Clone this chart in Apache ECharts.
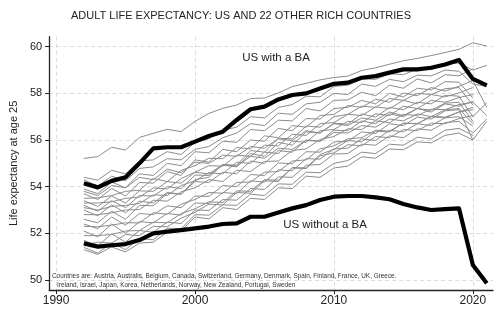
<!DOCTYPE html>
<html>
<head>
<meta charset="utf-8">
<script src="https://cdn.jsdelivr.net/npm/echarts@6/dist/echarts.min.js"></script>
<style>
html,body{margin:0;padding:0;background:#fff;}
#chart{width:504px;height:322px;}
</style>
</head>
<body>
<div id="chart"></div>
<script>
const years = [1992,1993,1994,1995,1996,1997,1998,1999,2000,2001,2002,2003,2004,2005,2006,2007,2008,2009,2010,2011,2012,2013,2014,2015,2016,2017,2018,2019,2020,2021];
const xTicks = [1990, 2000, 2010, 2020];
const yTicks = [50, 52, 54, 56, 58, 60];

const usWithBA = [54.15,53.97,54.25,54.40,55.00,55.64,55.69,55.69,55.93,56.17,56.36,56.86,57.32,57.43,57.74,57.93,58.00,58.21,58.41,58.46,58.67,58.74,58.89,59.03,59.03,59.10,59.24,59.43,58.62,58.34];
const usWithoutBA = [51.57,51.43,51.49,51.54,51.71,52.00,52.07,52.14,52.21,52.29,52.40,52.43,52.71,52.71,52.89,53.07,53.21,53.43,53.57,53.60,53.60,53.54,53.46,53.26,53.11,53.00,53.04,53.07,50.64,49.86];

const c01 = [55.21,55.29,55.69,55.57,56.11,56.29,56.46,56.36,56.80,57.14,57.36,57.50,57.78,57.80,58.02,58.29,58.43,58.58,58.68,58.74,58.98,59.10,59.25,59.40,59.50,59.62,59.75,59.89,60.17,60.03];
const c02 = [54.40,54.28,54.70,54.55,55.10,55.15,55.50,55.38,55.90,56.05,56.42,56.55,57.00,56.95,57.40,57.52,57.88,57.85,58.30,58.35,58.62,58.60,58.85,58.80,59.05,59.02,59.25,59.30,59.00,59.20];
const c03 = [54.30,54.02,54.45,54.25,54.78,54.85,55.20,55.15,55.60,55.72,56.10,56.30,56.70,56.62,57.15,57.10,57.55,57.62,58.00,57.95,58.40,58.30,58.60,58.50,58.78,58.75,59.00,58.95,58.40,58.30];
const c04 = [53.90,53.70,54.20,53.95,54.55,54.48,55.00,54.90,55.50,55.45,55.95,55.90,56.45,56.40,56.85,56.82,57.35,57.25,57.70,57.72,58.05,57.90,58.35,58.22,58.62,58.45,58.80,58.75,59.05,null];
const c05 = [53.80,53.62,54.05,53.95,54.40,54.30,54.75,54.60,55.05,55.00,55.35,55.30,55.72,55.65,56.05,55.98,56.40,56.30,56.70,56.62,56.95,56.85,57.20,57.05,57.35,57.20,57.55,57.45,57.65,null];
const c06 = [53.70,53.45,53.92,53.60,54.18,54.15,54.65,54.48,55.15,55.05,55.60,55.50,56.00,55.95,56.50,56.40,56.92,56.90,57.35,57.40,57.70,57.55,58.00,57.85,58.22,58.15,58.50,58.48,57.80,null];
const c07 = [53.50,53.52,53.62,53.80,53.85,54.35,54.22,54.70,54.90,55.22,55.20,55.68,55.62,56.18,56.10,56.62,56.55,57.05,57.10,57.48,57.40,57.75,57.62,58.02,57.90,58.25,58.10,58.30,58.55,57.40];
const c08 = [53.40,53.15,53.60,53.30,53.82,53.80,54.22,54.15,54.62,54.55,54.95,54.88,55.30,55.22,55.65,55.60,55.98,55.95,56.32,56.30,56.62,56.55,56.90,56.82,57.12,57.00,57.30,57.35,56.70,null];
const c09 = [53.30,53.30,53.35,53.50,53.55,53.95,53.90,54.35,54.62,54.90,54.88,55.35,55.30,55.78,55.75,56.25,56.20,56.70,56.75,57.10,57.05,57.42,57.35,57.70,57.55,57.95,57.85,58.02,58.25,null];
const c10 = [53.20,52.95,53.40,53.10,53.62,53.60,54.00,53.92,54.50,54.48,54.92,54.85,55.42,55.30,55.90,55.78,56.35,56.30,56.72,56.68,57.12,56.98,57.40,57.30,57.62,57.55,57.92,57.88,57.00,57.60];
const c11 = [53.10,53.00,53.15,53.20,53.28,53.65,53.62,54.05,54.25,54.60,54.55,55.05,55.00,55.48,55.42,55.95,55.90,56.40,56.45,56.80,56.75,57.12,57.05,57.45,57.35,57.70,57.62,57.82,57.95,null];
const c12 = [53.00,52.75,53.22,52.88,53.38,53.30,53.75,53.68,54.22,54.18,54.62,54.55,55.10,55.00,55.55,55.48,56.00,55.95,56.42,56.40,56.82,56.70,57.12,57.00,57.35,57.28,57.58,57.62,56.80,null];
const c13 = [52.80,52.80,52.88,53.00,53.02,53.42,53.38,53.78,53.95,54.30,54.22,54.70,54.65,55.08,55.10,55.55,55.62,56.02,56.15,56.48,56.45,56.82,56.75,57.10,57.05,57.32,57.30,57.52,57.62,57.05];
const c14 = [52.60,52.45,52.95,52.60,53.20,53.18,53.72,53.68,54.30,54.40,54.95,54.92,55.55,55.48,56.08,56.05,56.60,56.55,57.00,57.10,57.45,57.40,57.78,57.70,58.00,57.95,58.20,58.25,57.50,null];
const c15 = [52.40,52.20,52.70,52.35,52.85,52.80,53.18,53.10,53.60,53.58,54.05,54.00,54.52,54.48,55.02,54.98,55.50,55.48,55.92,55.95,56.35,56.28,56.70,56.62,56.98,56.90,57.25,57.30,56.00,56.80];
const c16 = [52.30,52.28,52.35,52.45,52.45,52.88,52.82,53.25,53.45,53.75,53.72,54.18,54.20,54.62,54.65,55.10,55.15,55.62,55.75,56.05,56.10,56.42,56.38,56.72,56.70,57.00,56.95,57.20,57.30,null];
const c17 = [52.10,51.85,52.40,52.00,52.50,52.45,52.85,52.78,53.30,53.28,53.75,53.70,54.25,54.20,54.72,54.68,55.20,55.18,55.62,55.65,56.05,55.98,56.42,56.35,56.70,56.62,56.95,57.00,56.60,null];
const c18 = [51.90,51.90,51.95,52.10,52.12,52.48,52.45,52.85,53.05,53.35,53.32,53.82,53.80,54.30,54.28,54.80,54.78,55.32,55.45,55.80,55.75,56.15,56.10,56.45,56.40,56.72,56.70,56.92,57.05,null];
const c19 = [51.70,51.45,51.98,51.62,52.12,52.05,52.48,52.42,53.00,52.98,53.45,53.42,53.92,53.88,54.42,54.40,54.92,54.95,55.40,55.42,55.82,55.78,56.18,56.10,56.48,56.42,56.75,56.80,56.30,56.90];
const c20 = [51.50,51.62,51.58,51.95,51.90,52.30,52.28,52.65,52.90,53.25,53.22,53.75,53.72,54.25,54.22,54.82,54.80,55.38,55.60,55.98,55.92,56.38,56.35,56.72,56.70,57.02,56.98,57.20,57.40,null];
const c21 = [51.40,51.15,51.60,51.30,51.78,51.72,52.22,52.20,52.80,52.78,53.22,53.20,53.68,53.62,54.12,54.10,54.62,54.60,55.00,55.12,55.48,55.42,55.82,55.78,56.12,56.05,56.42,56.50,56.20,null];
const c22 = [51.30,51.10,51.42,51.20,51.58,51.62,52.05,52.10,52.70,52.62,53.10,53.02,53.50,53.45,53.95,53.92,54.45,54.40,54.80,54.88,55.28,55.22,55.62,55.58,55.92,55.88,56.20,56.30,56.00,null];

const otherCountries = [c01,c02,c03,c04,c05,c06,c07,c08,c09,c10,c11,c12,c13,c14,c15,c16,c17,c18,c19,c20,c21,c22];

const titleText = 'ADULT LIFE EXPECTANCY: US AND 22 OTHER RICH COUNTRIES';
const yName = 'Life expectancy at age 25';
const labelWith = 'US with a BA';
const labelWithout = 'US without a BA';
const noteLine1 = 'Countries are: Austria, Australis, Belgium, Canada, Switzerland, Germany, Denmark, Spain, Finland, France, UK, Greece.';
const noteLine2 = 'Ireland, Israel, Japan, Korea, Netherlands, Norway, New Zealand, Portugal, Sweden';

const pair = arr => years.map((y, i) => [y, arr[i]]);

const FONT = 'Liberation Sans, Arial, sans-serif';

const series = [];
otherCountries.forEach((arr) => {
  series.push({
    type: 'line', data: pair(arr), showSymbol: false, symbol: 'none',
    lineStyle: { color: '#8c8c8c', width: 1 }, z: 2, silent: true, connectNulls: false
  });
});
series.push({ type: 'line', data: pair(usWithBA), showSymbol: false, symbol: 'none', lineStyle: { color: '#000', width: 4.2, join: 'round' }, z: 5, silent: true });
series.push({ type: 'line', data: pair(usWithoutBA), showSymbol: false, symbol: 'none', lineStyle: { color: '#000', width: 4.2, join: 'round' }, z: 5, silent: true });

const chart = echarts.init(document.getElementById('chart'), null, { renderer: 'canvas' });
chart.setOption({
  animation: false,
  backgroundColor: '#fff',
  grid: { left: 42, right: 11, top: 36.7, bottom: 32, containLabel: false },
  xAxis: {
    type: 'value', min: 1989.5, max: 2021.45,
    axisLine: { show: true, lineStyle: { color: '#222', width: 1.3 } },
    axisTick: { show: true, length: 4, customValues: xTicks, lineStyle: { color: '#222' } },
    axisLabel: { customValues: xTicks, color: '#222', fontSize: 12, fontFamily: FONT, margin: 5, formatter: v => String(Math.round(v)) },
    splitLine: { show: true, lineStyle: { color: '#dcdcdc', type: [4, 3], width: 1 } }
  },
  yAxis: {
    type: 'value', min: 49.57, max: 60.43,
    name: yName, nameLocation: 'middle', nameGap: 27, nameRotate: 90,
    nameTextStyle: { color: '#222', fontSize: 11, fontFamily: FONT },
    axisLine: { show: true, lineStyle: { color: '#222', width: 1.3 } },
    axisTick: { show: true, length: 4, customValues: yTicks, lineStyle: { color: '#222' } },
    axisLabel: { customValues: yTicks, color: '#222', fontSize: 11, fontFamily: FONT, margin: 7, formatter: v => String(Math.round(v)) },
    splitLine: { show: true, lineStyle: { color: '#dcdcdc', type: [4, 3], width: 1 } }
  },
  graphic: [
    { type: 'text', x: 241, y: 16, style: { text: titleText, fill: '#222', font: '11px ' + FONT, textAlign: 'center', textVerticalAlign: 'middle' } },
    { type: 'text', x: 276, y: 58, style: { text: labelWith, fill: '#222', font: '11.5px ' + FONT, textAlign: 'center', textVerticalAlign: 'middle' }, z: 10 },
    { type: 'text', x: 325, y: 225, style: { text: labelWithout, fill: '#222', font: '11.5px ' + FONT, textAlign: 'center', textVerticalAlign: 'middle' }, z: 10 },
    { type: 'text', x: 52, y: 276, style: { text: noteLine1, fill: '#333', font: '6.4px ' + FONT, textAlign: 'left', textVerticalAlign: 'middle' }, z: 10 },
    { type: 'text', x: 57, y: 285, style: { text: noteLine2, fill: '#333', font: '6.4px ' + FONT, textAlign: 'left', textVerticalAlign: 'middle' }, z: 10 }
  ],
  series: series
});
</script>
</body>
</html>
